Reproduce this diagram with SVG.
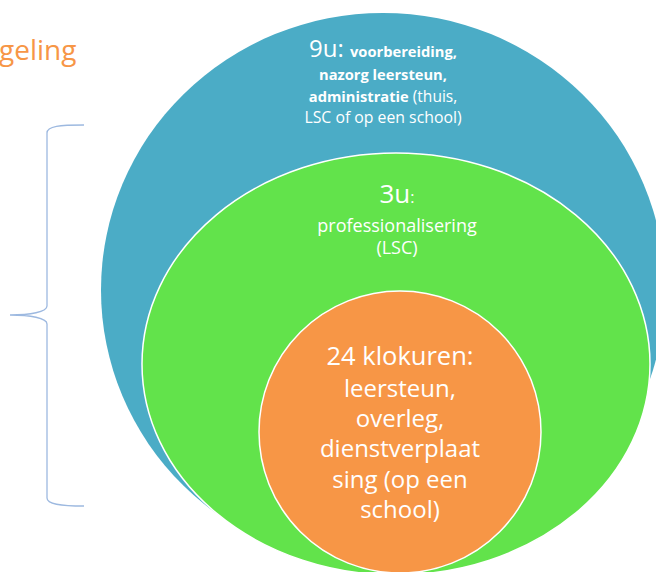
<svg xmlns="http://www.w3.org/2000/svg" width="656" height="572" viewBox="0 0 656 572">
<style>
.t{font-family:"Open Sans","Liberation Sans",sans-serif;fill:#fff;text-anchor:middle}
.b{font-weight:bold}
.ring{stroke:#fff;stroke-width:1.5}
</style>
<rect width="656" height="572" fill="#fff"/>
<text x="-1" y="60" font-family="Open Sans, Liberation Sans, sans-serif" font-size="28" fill="#F79646">geling</text>
<g id="brace">
<path d="M84,125 C60,125 47,126 47,133 L47,306 C47,312 30,315 10,315 C30,315 47,318 47,324 L47,498 C47,504 60,506 84,506" fill="none" stroke="#9DB9E0" stroke-width="1.3"/>
</g>
<g id="outer">
<ellipse cx="383" cy="290" rx="282" ry="277" fill="#4BACC6"/>
<text class="t" x="383" y="57"><tspan font-size="24">9u: </tspan><tspan class="b" font-size="14.7">voorbereiding,</tspan></text>
<text class="t b" x="383" y="80" font-size="14.7">nazorg leersteun,</text>
<text class="t" x="383" y="102" font-size="15.5"><tspan class="b" font-size="14.7">administratie</tspan> (thuis,</text>
<text class="t" x="383" y="123" font-size="15.8">LSC of op een school)</text>
</g>
<g id="middle">
<ellipse class="ring" cx="396" cy="364" rx="254" ry="211" fill="#62E34B"/>
<text class="t" x="397" y="203"><tspan font-size="26">3u</tspan><tspan font-size="16">:</tspan></text>
<text class="t" x="397" y="232" font-size="18">professionalisering</text>
<text class="t" x="397" y="254" font-size="18">(LSC)</text>
</g>
<g id="inner">
<circle class="ring" cx="400" cy="432" r="141" fill="#F79646"/>
<text class="t" x="400" y="365" font-size="25.5">24 klokuren:</text>
<text class="t" x="400" y="397" font-size="24">leersteun,</text>
<text class="t" x="400" y="427" font-size="24">overleg,</text>
<text class="t" x="400" y="457" font-size="24">dienstverplaat</text>
<text class="t" x="400" y="488" font-size="24">sing (op een</text>
<text class="t" x="400" y="518" font-size="24">school)</text>
</g>
</svg>
